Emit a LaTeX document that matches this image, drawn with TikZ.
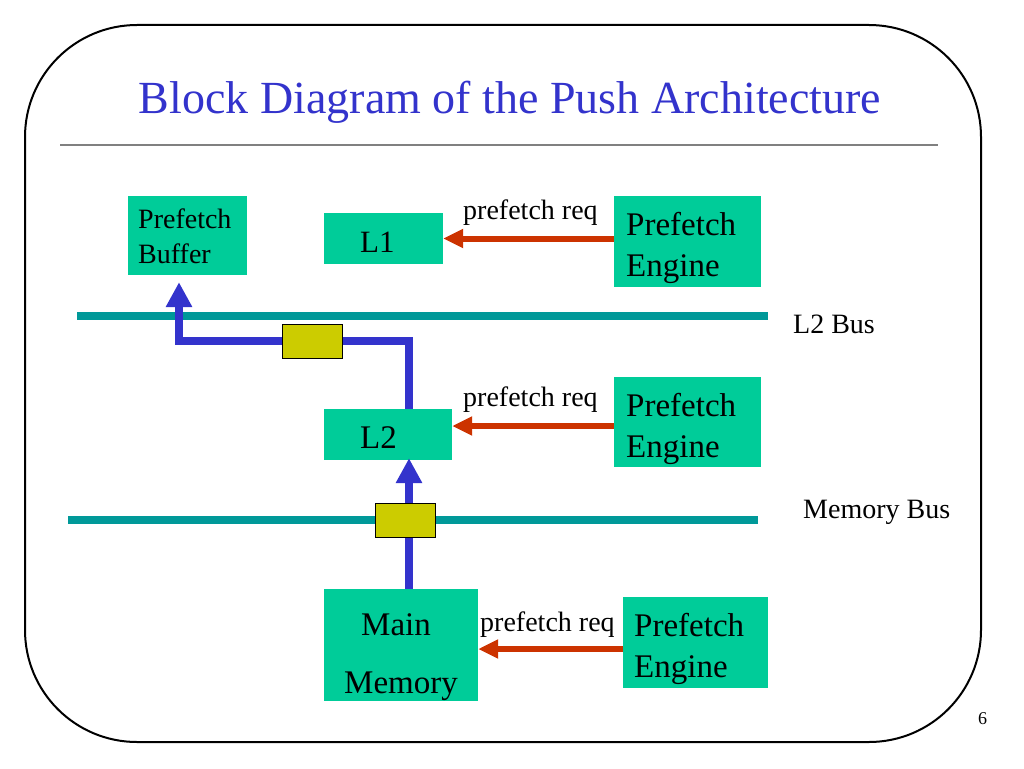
\documentclass[tikz,border=0pt]{standalone}
\usepackage{fontspec}
\setmainfont{Liberation Serif}
\usetikzlibrary{arrows.meta}
\definecolor{boxgreen}{RGB}{0,204,153}
\definecolor{busteal}{RGB}{0,153,153}
\definecolor{pathblue}{RGB}{51,51,204}
\definecolor{latchyellow}{RGB}{204,204,0}
\definecolor{reqred}{RGB}{204,51,0}
\definecolor{rulegray}{RGB}{128,128,128}
\tikzset{
  blk/.style={fill=boxgreen, draw=none, inner sep=0pt, minimum width=#1},
  latch/.style={fill=latchyellow, draw=black, line width=1pt, minimum width=60pt, minimum height=34pt, inner sep=0pt},
  bus/.style={busteal, line width=8pt},
  bluepath/.style={pathblue, line width=8pt, line join=miter},
  bluetip/.style={-{Triangle[width=25pt,length=25pt]}},
  reqarrow/.style={reqred, line width=6pt, -{Triangle[width=18pt,length=20pt]}},
  txt/.style={inner sep=0pt, anchor=base west},
  fs/.style={font=\fontsize{#1}{#1}\selectfont},
}
\begin{document}
\begin{tikzpicture}[x=1pt,y=-1pt]
\useasboundingbox (0,0) rectangle (1024,768);
% frame
\draw[line width=2pt, rounded corners=112pt] (25,25) rectangle (981,742);
% title
\node[inner sep=0pt, anchor=base, fs=46, text=pathblue] (title) at (510,113) {Block Diagram of the Push Architecture};
\draw[rulegray, line width=2pt] (60,145) coordinate (rl) -- (938,145) coordinate (rr);

% buses
\coordinate (b1l) at (77,316); \coordinate (b1r) at (768,316);
\coordinate (b2l) at (68,520); \coordinate (b2r) at (758,520);
\draw[bus] (b1l) -- (b1r);
\draw[bus] (b2l) -- (b2r);
\node[txt, fs=28] (l2buslbl) at (793,333) {L2 Bus};
\node[txt, fs=28] (membuslbl) at (803,518) {Memory Bus};

% boxes
\node[blk=119pt, minimum height=79pt] (pb) at (187.5,235.5) {};
\node[blk=119pt, minimum height=51pt] (l1) at (383.5,238.5) {};
\node[blk=147pt, minimum height=91pt] (e1) at (687.5,241.5) {};
\node[blk=128pt, minimum height=51pt] (l2) at (388,434.5) {};
\node[blk=147pt, minimum height=90pt] (e2) at (687.5,422) {};
\node[blk=154pt, minimum height=112pt] (mm) at (401,645) {};
\node[blk=145pt, minimum height=91pt] (e3) at (695.5,642.5) {};

% box texts
\node[txt, fs=28] (pbt1) at (138,228) {Prefetch};
\node[txt, fs=28] (pbt2) at (138,263) {Buffer};
\node[txt, fs=31] (l1t) at (360,252) {L1};
\node[txt, fs=33] (e1t1) at (626,235) {Prefetch};
\node[txt, fs=33] (e1t2) at (626,276) {Engine};
\node[txt, fs=33] (l2t) at (360,448) {L2};
\node[txt, fs=33] (e2t1) at (626,416) {Prefetch};
\node[txt, fs=33] (e2t2) at (626,457) {Engine};
\node[inner sep=0pt, anchor=base, fs=33] (mmt1) at (396,635) {Main};
\node[inner sep=0pt, anchor=base, fs=33] (mmt2) at (401,693) {Memory};
\node[txt, fs=33] (e3t1) at (634,636) {Prefetch};
\node[txt, fs=33] (e3t2) at (634,677) {Engine};

% request arrows
\coordinate (r1) at (e1.west |- l1.east);
\draw[reqarrow] (r1) -- (l1.east);
\coordinate (r2) at ([yshift=-4pt]e2.west);
\draw[reqarrow] (r2) -- (r2 -| l2.east);
\coordinate (r3) at ([yshift=-6.5pt]e3.west);
\draw[reqarrow] (r3) -- (r3 -| mm.east);
\node[txt, fs=28] (req1) at (463,219) {prefetch req};
\node[txt, fs=28] (req2) at (463,406) {prefetch req};
\node[txt, fs=28] (req3) at (480,631) {prefetch req};

% blue data paths
\coordinate (bv) at (409,341);
\coordinate (bu) at (179,341);
\draw[bluepath, bluetip, shorten >=7pt] (l2.north -| bv) -- (bv) -- (bu) -- (bu |- pb.south);
\draw[bluepath, bluetip, shorten >=-2pt] (mm.north -| bv) -- (l2.south -| bv);

% latches
\node[latch] (y1) at (312,341) {};
\node[latch] (y2) at (405,520) {};

% page number
\node[txt, fs=18] (pg) at (978,724) {6};
\end{tikzpicture}
\end{document}
